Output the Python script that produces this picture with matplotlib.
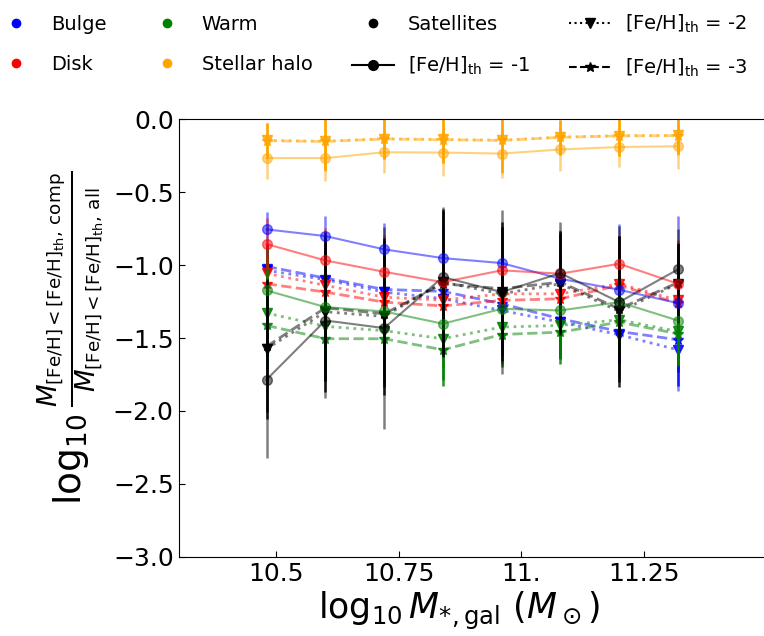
import matplotlib
matplotlib.use("Agg")
import matplotlib.pyplot as plt
from matplotlib.lines import Line2D

# bins de masa estelar de la galaxia
masa_gal = [10.48, 10.60, 10.72, 10.84, 10.96, 11.08, 11.20, 11.32]

# log10 de la fraccion de masa pobre en metales por componente, para cada [Fe/H]_th
bulge_1 = [-0.755, -0.801, -0.892, -0.952, -0.986, -1.094, -1.169, -1.261]
bulge_2 = [-1.036, -1.100, -1.185, -1.230, -1.311, -1.391, -1.478, -1.581]
bulge_3 = [-1.009, -1.089, -1.167, -1.180, -1.265, -1.368, -1.455, -1.512]
disk_1 = [-0.856, -0.968, -1.046, -1.117, -1.036, -1.059, -0.991, -1.128]
disk_2 = [-1.057, -1.139, -1.220, -1.240, -1.197, -1.197, -1.128, -1.242]
disk_3 = [-1.128, -1.185, -1.254, -1.280, -1.242, -1.231, -1.139, -1.261]
warm_1 = [-1.174, -1.288, -1.318, -1.402, -1.300, -1.311, -1.254, -1.380]
warm_2 = [-1.329, -1.420, -1.450, -1.505, -1.425, -1.414, -1.375, -1.455]
warm_3 = [-1.414, -1.505, -1.505, -1.581, -1.476, -1.460, -1.391, -1.471]
halo_1 = [-0.266, -0.266, -0.226, -0.228, -0.235, -0.207, -0.190, -0.185]
halo_2 = [-0.145, -0.150, -0.133, -0.138, -0.143, -0.122, -0.112, -0.110]
halo_3 = [-0.147, -0.152, -0.135, -0.140, -0.145, -0.124, -0.114, -0.112]
sat_1 = [-1.785, -1.380, -1.432, -1.082, -1.185, -1.055, -1.254, -1.030]
sat_2 = [-1.574, -1.320, -1.352, -1.117, -1.197, -1.128, -1.318, -1.128]
sat_3 = [-1.558, -1.293, -1.334, -1.128, -1.162, -1.117, -1.300, -1.120]

# errores (1 sigma)
bulge_1_err = [0.12, 0.14, 0.18, 0.22, 0.25, 0.30, 0.45, 0.60]
bulge_2_err = [0.15, 0.20, 0.22, 0.25, 0.25, 0.25, 0.20, 0.25]
bulge_3_err = [0.15, 0.20, 0.22, 0.25, 0.25, 0.25, 0.20, 0.22]
disk_1_err = [0.18, 0.22, 0.25, 0.28, 0.30, 0.30, 0.19, 0.30]
disk_2_err = [0.20, 0.22, 0.25, 0.25, 0.30, 0.30, 0.25, 0.30]
disk_3_err = [0.20, 0.22, 0.25, 0.25, 0.30, 0.30, 0.25, 0.30]
warm_1_err = [0.30, 0.30, 0.35, 0.30, 0.30, 0.25, 0.30, 0.30]
warm_2_err = [0.30, 0.30, 0.30, 0.28, 0.25, 0.22, 0.22, 0.22]
warm_3_err = [0.30, 0.29, 0.30, 0.25, 0.22, 0.22, 0.22, 0.22]
halo_1_err = [0.145, 0.160, 0.145, 0.162, 0.166, 0.148, 0.135, 0.157]
halo_2_err = [0.12, 0.20, 0.14, 0.16, 0.22, 0.12, 0.14, 0.13]
halo_3_err = [0.12, 0.20, 0.14, 0.16, 0.22, 0.12, 0.14, 0.13]
sat_1_err = [0.54, 0.53, 0.69, 0.48, 0.56, 0.35, 0.52, 0.28]
sat_2_err = [0.48, 0.55, 0.54, 0.50, 0.46, 0.35, 0.52, 0.27]
sat_3_err = [0.45, 0.50, 0.50, 0.50, 0.46, 0.35, 0.50, 0.27]

componentes = {
    "Bulge": ("blue", [bulge_1, bulge_2, bulge_3], [bulge_1_err, bulge_2_err, bulge_3_err]),
    "Disk": ("red", [disk_1, disk_2, disk_3], [disk_1_err, disk_2_err, disk_3_err]),
    "Warm": ("green", [warm_1, warm_2, warm_3], [warm_1_err, warm_2_err, warm_3_err]),
    "Stellar halo": ("orange", [halo_1, halo_2, halo_3], [halo_1_err, halo_2_err, halo_3_err]),
    "Satellites": ("black", [sat_1, sat_2, sat_3], [sat_1_err, sat_2_err, sat_3_err]),
}

umbrales = ["-1", "-2", "-3"]
estilos = ["-", ":", "--"]
marcadores = ["o", "v", "*"]

fig = plt.figure(figsize=(7.64, 6.36), dpi=100)
# el eje derecho queda justo en el borde de la figura
ax = fig.add_axes([178.5 / 764, 79.3 / 636, 587.5 / 764, 437.4 / 636])

for nombre, (color, series, errores) in componentes.items():
    for i in range(3):
        y = series[i]
        yerr = errores[i]
        if i == 0:
            ax.errorbar(masa_gal, y, yerr=yerr, color=color, ls="-", lw=1.5,
                        marker="o", ms=7, elinewidth=1.8, alpha=0.5)
        else:
            ax.errorbar(masa_gal, y, yerr=yerr, fmt="none", ecolor=color,
                        elinewidth=1.8, alpha=0.85)
            ax.plot(masa_gal, y, color=color, ls=estilos[i], lw=2, alpha=0.5)
            ax.plot(masa_gal, y, color=color, ls="none", marker=marcadores[i],
                    ms=8 if i == 2 else 7, alpha=0.85)

ax.set_xlim(10.3, 11.5)
ax.set_ylim(-3.0, 0.0)
ax.set_xticks([10.5, 10.75, 11.0, 11.25])
ax.set_xticklabels(["10.5", "10.75", "11.", "11.25"])
ax.set_yticks([0.0, -0.5, -1.0, -1.5, -2.0, -2.5, -3.0])
ax.tick_params(direction="in", labelsize=18, length=4)
ax.spines["right"].set_visible(False)

ax.set_xlabel(r"$\log_{10}M_{*,\rm gal}\ (M_\odot)$", fontsize=25)
ax.xaxis.set_label_coords(0.477, -0.075)
ax.set_ylabel(r"$\log_{10}\frac{M_{\rm [Fe/H] < [Fe/H]_{th},\, comp}}"
              r"{M_{\rm [Fe/H] < [Fe/H]_{th},\, all}}$", fontsize=27)

# leyenda: componentes con puntos, umbrales con lineas negras
handles = []
etiquetas = []
for nombre, (color, series, errores) in componentes.items():
    handles.append(Line2D([], [], color=color, marker="o", ls="none", ms=6))
    etiquetas.append(nombre)
for i in range(3):
    handles.append(Line2D([], [], color="black", ls=estilos[i], marker=marcadores[i], ms=7, lw=1.5))
    etiquetas.append(r"[Fe/H]$_{\rm th}$ = " + umbrales[i])

fig.legend(handles, etiquetas, ncol=4, loc="upper left", bbox_to_anchor=(-0.007, 0.98),
           frameon=False, fontsize=14, handlelength=2.2, handletextpad=0.7,
           columnspacing=2.0, labelspacing=1.1, borderpad=0, borderaxespad=0)

plt.savefig("out.png", dpi=100)
